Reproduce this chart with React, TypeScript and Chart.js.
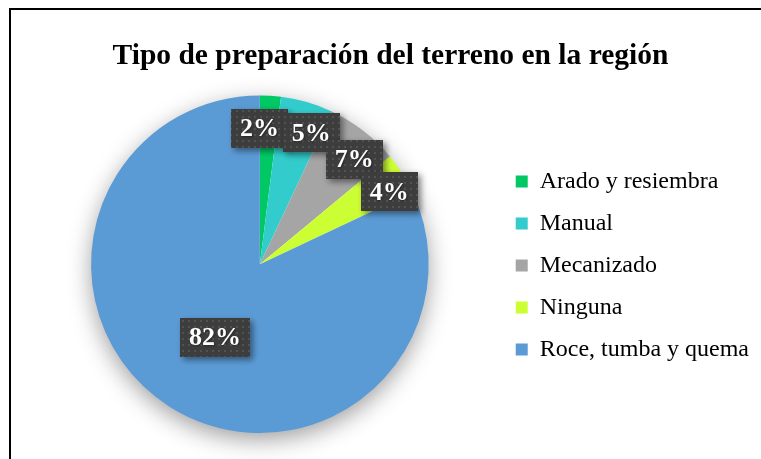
import React, { useEffect, useRef } from "react";
import { Chart, registerables } from "chart.js";

Chart.register(...registerables);

const categories = ["Arado y resiembra", "Manual", "Mecanizado", "Ninguna", "Roce, tumba y quema"];
const percentages = [2, 5, 7, 4, 82];
const sliceColors = ["#00C864", "#33CCCC", "#A5A5A5", "#CCFF33", "#5B9BD5"];
const titleText = "Tipo de preparación del terreno en la región";

// label placement (layout only): fraction of radius and angular nudge (degrees)
const labelDist = [0.805, 0.835, 0.836, 0.878, 0.508];
const labelTurn = [-3.8, 5.2, 4.2, 3.2, -0.8];

const SERIF = '"Liberation Serif", "Times New Roman", serif';

function makePattern(ctx: CanvasRenderingContext2D) {
  const c = document.createElement("canvas");
  c.width = 6;
  c.height = 6;
  const p = c.getContext("2d")!;
  p.fillStyle = "#3d3d3d";
  p.fillRect(0, 0, 6, 6);
  p.fillStyle = "#525252";
  p.fillRect(2, 2, 2, 2);
  return ctx.createPattern(c, "repeat");
}

const pieDecor = {
  id: "pieDecor",
  beforeDatasetsDraw(chart: any) {
    const meta = chart.getDatasetMeta(0);
    const a = meta.data[0];
    if (!a) return;
    const { x, y, outerRadius } = a.getProps(["x", "y", "outerRadius"], true);
    const ctx = chart.ctx as CanvasRenderingContext2D;
    ctx.save();
    ctx.shadowColor = "rgba(0,0,0,0.4)";
    ctx.shadowBlur = 24;
    ctx.shadowOffsetY = 7;
    ctx.fillStyle = "#ffffff";
    ctx.beginPath();
    ctx.arc(x, y, outerRadius - 1, 0, Math.PI * 2);
    ctx.fill();
    ctx.restore();
  },
  afterDatasetsDraw(chart: any) {
    const meta = chart.getDatasetMeta(0);
    const ctx = chart.ctx as CanvasRenderingContext2D;
    const pattern = makePattern(ctx);
    meta.data.forEach((arc: any, i: number) => {
      const { x, y, startAngle, endAngle, outerRadius } = arc.getProps(
        ["x", "y", "startAngle", "endAngle", "outerRadius"],
        true
      );
      const mid = (startAngle + endAngle) / 2 + (labelTurn[i] * Math.PI) / 180;
      const r = outerRadius * labelDist[i];
      const cx = x + Math.cos(mid) * r;
      const cy = y + Math.sin(mid) * r;
      const text = `${percentages[i]}%`;
      ctx.save();
      ctx.font = `bold 26px ${SERIF}`;
      const w = ctx.measureText(text).width + 18;
      const h = 39;
      ctx.shadowColor = "rgba(0,0,0,0.45)";
      ctx.shadowBlur = 6;
      ctx.shadowOffsetX = 3;
      ctx.shadowOffsetY = 3;
      ctx.fillStyle = pattern || "#3d3d3d";
      ctx.fillRect(Math.round(cx - w / 2), Math.round(cy - h / 2), Math.round(w), h);
      ctx.shadowColor = "rgba(0,0,0,0.4)";
      ctx.shadowBlur = 2;
      ctx.shadowOffsetX = 1;
      ctx.shadowOffsetY = 1;
      ctx.fillStyle = "#ffffff";
      ctx.textAlign = "center";
      ctx.textBaseline = "middle";
      ctx.fillText(text, cx, cy + 1);
      ctx.restore();
    });
  },
};

export default function App() {
  const ref = useRef<HTMLCanvasElement | null>(null);
  useEffect(() => {
    if (!ref.current) return;
    const chart = new Chart(ref.current, {
      type: "pie",
      data: {
        labels: categories,
        datasets: [
          {
            data: percentages,
            backgroundColor: sliceColors,
            borderWidth: 0,
          },
        ],
      },
      options: {
        responsive: false,
        animation: false,
        events: [],
        layout: { padding: { left: 22, right: 2, top: 8, bottom: 26 } },
        plugins: {
          tooltip: { enabled: false },
          title: {
            display: true,
            text: titleText,
            color: "#000",
            font: { family: SERIF, size: 29.5, weight: "bold" },
            padding: { top: 31, bottom: 21 },
          },
          legend: {
            position: "right",
            align: "center",
            title: {
              display: true,
              text: " ",
              font: { size: 10 },
              padding: { top: 39, bottom: 39 },
            },
            labels: {
              boxWidth: 12,
              boxHeight: 12,
              padding: 18,
              color: "#000",
              font: { family: SERIF, size: 24 },
            },
          },
        },
      },
      plugins: [pieDecor],
    });
    return () => chart.destroy();
  }, []);
  return (
    <div
      style={{
        position: "fixed",
        left: 0,
        top: 0,
        width: 761,
        height: 459,
        overflow: "hidden",
        background: "#fff",
      }}
    >
      <div
        style={{
          position: "absolute",
          left: 9,
          top: 8,
          width: 800,
          height: 500,
          border: "2px solid #000",
          boxSizing: "border-box",
        }}
      />
      <canvas
        ref={ref}
        width={761}
        height={459}
        style={{ position: "absolute", left: 0, top: 0, width: 761, height: 459 }}
      />
    </div>
  );
}
